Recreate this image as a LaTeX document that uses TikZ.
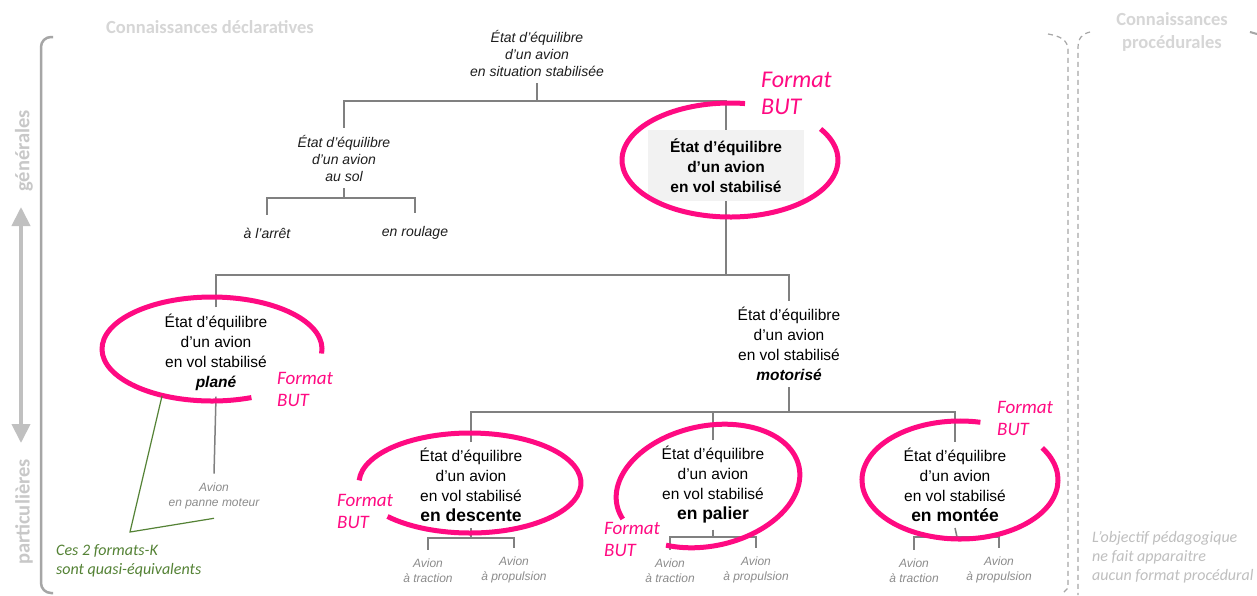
\documentclass[tikz,border=0pt]{standalone}
\usepackage{fontspec}
\setmainfont{Liberation Sans}
\newfontfamily\calib{Carlito}
\usetikzlibrary{arrows.meta,calc}
\definecolor{pinkc}{HTML}{FF0A82}
\definecolor{treegray}{HTML}{808080}
\definecolor{leafgray}{HTML}{8C8C8C}
\definecolor{darktxt}{HTML}{1E1E1E}
\definecolor{boxgray}{HTML}{F2F2F2}
\definecolor{hdrgray}{HTML}{D6D6D6}
\definecolor{sidegray}{HTML}{C8C8C8}
\definecolor{arrgray}{HTML}{C0C0C0}
\definecolor{brkgray}{HTML}{A6A6A6}
\definecolor{kgreen}{HTML}{548235}
\definecolor{notegray}{HTML}{BFBFBF}
\begin{document}
\begin{tikzpicture}[x=1pt,y=-1pt,
  tree/.style={draw=treegray,line width=1.5pt},
  ring/.style={draw=pinkc,line width=5pt},
  mainlbl/.style={font=\fontsize{15.5}{20}\selectfont,align=center,inner xsep=2pt,inner ysep=6pt},
  toplbl/.style={font=\fontsize{14}{17}\selectfont\itshape,text=darktxt,align=center,inner xsep=2pt,inner ysep=7pt},
  sollbl/.style={font=\fontsize{14}{17}\selectfont\itshape,text=darktxt,align=center,inner xsep=2pt,inner ysep=13pt},
  leaf/.style={font=\fontsize{12}{15}\selectfont\itshape,text=leafgray,align=center,inner xsep=2pt,inner ysep=9pt},
  fmtbig/.style={font=\calib\itshape\fontsize{24}{27}\selectfont,text=pinkc,align=left,anchor=west,inner sep=0pt},
  fmt/.style={font=\calib\itshape\fontsize{19}{22}\selectfont,text=pinkc,align=left,anchor=west,inner sep=0pt},
  hdr/.style={font=\calib\bfseries\fontsize{18.5}{23}\selectfont,text=hdrgray,align=center,inner sep=0pt},
  side/.style={font=\calib\bfseries\fontsize{20.5}{24}\selectfont,text=sidegray,rotate=90,inner sep=0pt},
  note/.style={font=\calib\itshape\fontsize{16}{19}\selectfont,align=left,anchor=west,inner sep=0pt},
  dashbrk/.style={draw=brkgray,line width=1.2pt,dash pattern=on 5pt off 4pt}]
\useasboundingbox (0,0) rectangle (1257,595);
\fill[white] (0,0) rectangle (1257,595);

% headers and side labels
\node[hdr] (hdecl) at (210,27) {Connaissances déclaratives};
\node[hdr] (hproc) at (1172,32) {Connaissances\\procédurales};
\node[side] (gen) at (24,151) {générales};
\node[side] (part) at (24,512) {particulières};
\coordinate (arrtop) at (21,207);
\coordinate (arrbot) at (21,443);
\draw[draw=arrgray,line width=4pt,{Triangle[width=18pt,length=19pt]}-{Triangle[width=18pt,length=19pt]}] (arrtop) -- (arrbot);

% brackets
\draw[draw=brkgray,line width=2.5pt,rounded corners=10pt] (53,37) -- (41,37) -- (41,593) -- (53,593);
\draw[dashbrk] (1048,34) .. controls (1060,36) and (1068,40) .. (1068,50) -- (1068,588) -- (1062,594);
\draw[dashbrk] (1090,32) .. controls (1082,34) and (1078,38) .. (1078,48) -- (1078,595);
\draw[draw=brkgray,line width=2pt] (1250,32) -- (1257,34);

% tree nodes
\node[toplbl] (t0) at (537,53) {État d’équilibre\\d’un avion\\en situation stabilisée};
\node[toplbl] (sol) at (344,158) {État d’équilibre\\d’un avion\\au sol};
\node[sollbl] (arret) at (267,233) {à l’arrêt};
\node[sollbl] (roul) at (415,233) {en roulage};
\node[mainlbl,fill=boxgray,font=\fontsize{15.5}{20}\selectfont\bfseries,minimum width=156pt,minimum height=71pt,inner sep=0pt] (vol) at (726,165.5) {État d’équilibre\\d’un avion\\en vol stabilisé};
\node[mainlbl] (plane) at (216,352) {État d’équilibre\\d’un avion\\en vol stabilisé\\\textbf{\textit{plané}}};
\node[mainlbl] (motor) at (789,344) {État d’équilibre\\d’un avion\\en vol stabilisé\\\textbf{\textit{motorisé}}};
\node[mainlbl] (desc) at (471,485) {État d’équilibre\\d’un avion\\en vol stabilisé\\{\fontsize{17.5}{21}\selectfont\bfseries en descente}};
\node[mainlbl] (pal) at (713,485) {État d’équilibre\\d’un avion\\en vol stabilisé\\{\fontsize{17.5}{21}\selectfont\bfseries en palier}};
\node[mainlbl] (mont) at (955,485) {État d’équilibre\\d’un avion\\en vol stabilisé\\{\fontsize{17.5}{21}\selectfont\bfseries en montée}};
\node[leaf] (panne) at (214,496) {Avion\\en panne moteur};
\node[leaf] (a1) at (428,571) {Avion\\à traction};
\node[leaf] (p1) at (514,570) {Avion\\à propulsion};
\node[leaf] (a2) at (670,571) {Avion\\à traction};
\node[leaf] (p2) at (756,570) {Avion\\à propulsion};
\node[leaf] (a3) at (914,571) {Avion\\à traction};
\node[leaf] (p3) at (999,570) {Avion\\à propulsion};

% connectors
\coordinate (b0) at (537,101);
\draw[tree] (t0.south) -- (b0);
\draw[tree] (sol.north) |- (b0) -| (vol.north);
\coordinate (b1) at (344,198);
\draw[tree] (sol.south) -- (b1);
\draw[tree] (arret.north) |- (b1) -| (roul.north);
\coordinate (b2) at (726,275);
\draw[tree] (vol.south) -- (b2);
\draw[tree] (plane.north) |- (b2) -| (motor.north);
\coordinate (b3) at (789,412);
\draw[tree] (motor.south) -- (b3);
\draw[tree] (desc.north) |- (b3) -| (mont.north);
\draw[tree] (pal.north) -- (pal.north |- b3);
\draw[tree] (plane.south) -- (panne.north);
\coordinate (b4) at (471,538);
\draw[tree] (desc.south) -- (b4);
\draw[tree] (a1.north) |- (b4) -| (p1.north);
\coordinate (b5) at (713,537);
\draw[tree] (pal.south) -- (b5);
\draw[tree] (a2.north) |- (b5) -| (p2.north);
\coordinate (b6) at (957,537);
\draw[tree] (mont.south) -- (b6);
\draw[tree] (a3.north) |- (b6) -| (p3.north);

% pink rings
\draw[ring] ($(730,160)+(-82:108 and 57)$) arc[start angle=-82,end angle=-393,x radius=108,y radius=57];
\draw[ring] ($(212,349)+(5:110 and 52)$) arc[start angle=5,end angle=-291,x radius=110,y radius=52];
\draw[ring] ($(470,483)+(-177:111 and 50)$) arc[start angle=-177,end angle=138,x radius=111,y radius=50];
\begin{scope}[rotate around={12:(708,486)}]
\draw[ring] ($(708,486)+(-194:93 and 60)$) arc[start angle=-194,end angle=125,x radius=93,y radius=60];
\end{scope}
\draw[ring] ($(960,480)+(-78:98 and 59)$) arc[start angle=-78,end angle=-393,x radius=98,y radius=59];

% Format BUT labels
\node[fmtbig] (f0) at (761,93) {Format\\BUT};
\node[fmt] (f1) at (277,389) {Format\\BUT};
\node[fmt] (f2) at (337,511) {Format\\BUT};
\node[fmt] (f3) at (604,539) {Format\\BUT};
\node[fmt] (f4) at (997,418) {Format\\BUT};

% green comment
\coordinate (g1) at (162,396);
\coordinate (gv) at (130,532);
\draw[draw=kgreen,line width=1.2pt] (g1) -- (gv) -- (panne.south);
\node[note,text=kgreen] (cmt) at (56,561) {Ces 2 formats-K\\sont quasi-équivalents};

% right note
\node[note,text=notegray] (obj) at (1092,557) {L’objectif pédagogique\\ne fait apparaitre\\aucun format procédural};
\end{tikzpicture}
\end{document}
